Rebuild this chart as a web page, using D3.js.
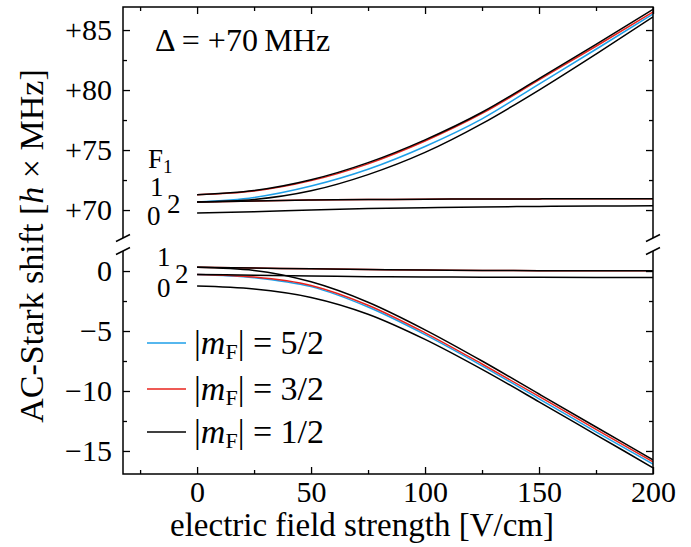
<!DOCTYPE html>
<html>
<head>
<meta charset="utf-8">
<script src="https://cdn.jsdelivr.net/npm/d3@7"></script>
<style>
  body { margin: 0; background: #fff; }
  svg text { font-family: "Liberation Serif", serif; fill: #000; }
</style>
</head>
<body>
<div id="chart"></div>
<script>
// field strengths where values were read (V/cm)
const fields = [0, 25, 50, 75, 100, 125, 150, 175, 200];

// upper panel (+70 MHz branch)
const upBlue      = [70.67, 71.05, 72.0, 73.4, 75.3, 77.6, 80.5, 83.4, 86.33];
const upRed       = [71.27, 71.58, 72.45, 73.85, 75.75, 78.05, 80.85, 83.65, 86.5];
const upBlack     = [71.27, 71.62, 72.52, 73.95, 75.85, 78.15, 80.95, 83.8, 86.73];
const upBlack2    = [70.67, 70.88, 71.6, 72.95, 74.8, 77.2, 80.0, 83.0, 86.1];
const upFlatRed   = [70.67, 70.76, 70.83, 70.87, 70.9, 70.92, 70.93, 70.94, 70.95];
const upFlatBlack = [70.67, 70.76, 70.83, 70.87, 70.9, 70.92, 70.93, 70.94, 70.95];
const upLowBlack  = [69.75, 69.86, 70.0, 70.12, 70.2, 70.26, 70.3, 70.33, 70.36];

// lower panel (0 MHz branch)
const loBlue       = [-0.28, -0.55, -1.3, -3.0, -5.3, -7.9, -10.65, -13.4, -16.1];
const loRed        = [-0.28, -0.5, -1.2, -2.85, -5.15, -7.75, -10.45, -13.2, -15.9];
const loBlack      = [0.31, 0.05, -0.9, -2.6, -4.9, -7.5, -10.25, -13.0, -15.75];
const loBlack2     = [-1.25, -1.5, -2.2, -3.6, -5.7, -8.2, -10.9, -13.65, -16.4];
const loFlatRed    = [0.31, 0.25, 0.18, 0.12, 0.08, 0.05, 0.03, 0.02, 0.02];
const loFlatBlack  = [0.31, 0.25, 0.18, 0.12, 0.08, 0.05, 0.03, 0.02, 0.02];
const loFlatBlack2 = [-0.28, -0.35, -0.42, -0.47, -0.5, -0.51, -0.52, -0.53, -0.53];

const xTicks = [0, 50, 100, 150, 200];
const xMinor = [-25, 25, 75, 125, 175];
const upTicks = [70, 75, 80, 85];
const upMinor = [72.5, 77.5, 82.5];
const loTicks = [0, -5, -10, -15];
const loMinor = [-2.5, -7.5, -12.5];

const legendItems = [
  { label: "5/2", color: "#1e9fe8" },
  { label: "3/2", color: "#e8231d" },
  { label: "1/2", color: "#000000" }
];

const colors = { blue: "#1e9fe8", red: "#e8231d", black: "#000000" };

const W = 691, H = 547;
const left = 123, right = 653;
const upTop = 7, upBottom = 238, loTop = 251, loBottom = 474;
const serif = "'Liberation Serif', serif";

const x = d3.scaleLinear().domain([-32.5, 200]).range([left, right]);
const yUp = d3.scaleLinear().domain([67.67, 86.92]).range([upBottom, upTop]);
const yLo = d3.scaleLinear().domain([-16.92, 1.67]).range([loBottom, loTop]);

const svg = d3.select("#chart").append("svg")
  .attr("width", W).attr("height", H)
  .style("font-family", serif);

const defs = svg.append("defs");
defs.append("clipPath").attr("id", "clipUp").append("rect")
  .attr("x", left).attr("y", upTop).attr("width", right - left).attr("height", upBottom - upTop);
defs.append("clipPath").attr("id", "clipLo").append("rect")
  .attr("x", left).attr("y", loTop).attr("width", right - left).attr("height", loBottom - loTop);

function drawSeries(g, y, vals, color) {
  const line = d3.line()
    .x((d, i) => x(fields[i]))
    .y(d => y(d))
    .curve(d3.curveMonotoneX);
  g.append("path")
    .datum(vals)
    .attr("fill", "none")
    .attr("stroke", color)
    .attr("stroke-width", 1.5)
    .attr("d", line);
}

const gUp = svg.append("g").attr("clip-path", "url(#clipUp)");
drawSeries(gUp, yUp, upBlue, colors.blue);
drawSeries(gUp, yUp, upRed, colors.red);
drawSeries(gUp, yUp, upFlatRed, colors.red);
drawSeries(gUp, yUp, upBlack, colors.black);
drawSeries(gUp, yUp, upBlack2, colors.black);
drawSeries(gUp, yUp, upFlatBlack, colors.black);
drawSeries(gUp, yUp, upLowBlack, colors.black);

const gLo = svg.append("g").attr("clip-path", "url(#clipLo)");
drawSeries(gLo, yLo, loBlue, colors.blue);
drawSeries(gLo, yLo, loRed, colors.red);
drawSeries(gLo, yLo, loFlatRed, colors.red);
drawSeries(gLo, yLo, loBlack, colors.black);
drawSeries(gLo, yLo, loBlack2, colors.black);
drawSeries(gLo, yLo, loFlatBlack, colors.black);
drawSeries(gLo, yLo, loFlatBlack2, colors.black);

// axes (ticks inward on all four sides)
const tickFont = "30px";
function styleAxis(g) {
  g.attr("font-family", serif);
  g.select(".domain").remove();
  g.selectAll("line").attr("stroke", "#000").attr("stroke-width", 1.3);
  g.selectAll("text").style("font-size", tickFont).style("font-family", serif);
}

const fmtUp = d => "+" + d;
const fmtLo = d => d < 0 ? "\u2212" + Math.abs(d) : String(d);

// left
svg.append("g").attr("transform", `translate(${left},0)`)
  .call(d3.axisLeft(yUp).tickValues(upTicks).tickFormat(fmtUp).tickSizeInner(-7).tickSizeOuter(0).tickPadding(11))
  .call(styleAxis);
svg.append("g").attr("transform", `translate(${left},0)`)
  .call(d3.axisLeft(yUp).tickValues(upMinor).tickFormat("").tickSizeInner(-4).tickSizeOuter(0))
  .call(styleAxis);
svg.append("g").attr("transform", `translate(${left},0)`)
  .call(d3.axisLeft(yLo).tickValues(loTicks).tickFormat(fmtLo).tickSizeInner(-7).tickSizeOuter(0).tickPadding(11))
  .call(styleAxis);
svg.append("g").attr("transform", `translate(${left},0)`)
  .call(d3.axisLeft(yLo).tickValues(loMinor).tickFormat("").tickSizeInner(-4).tickSizeOuter(0))
  .call(styleAxis);

// right
[[yUp, upTicks, 7], [yUp, upMinor, 4], [yLo, loTicks, 7], [yLo, loMinor, 4]].forEach(([s, t, len]) => {
  svg.append("g").attr("transform", `translate(${right},0)`)
    .call(d3.axisRight(s).tickValues(t).tickFormat("").tickSizeInner(-len).tickSizeOuter(0))
    .call(styleAxis);
});

// bottom
svg.append("g").attr("transform", `translate(0,${loBottom})`)
  .call(d3.axisBottom(x).tickValues(xTicks).tickFormat(d => String(d)).tickSizeInner(-7).tickSizeOuter(0).tickPadding(7))
  .call(styleAxis)
  .selectAll("text").attr("dy", "0.71em");
svg.append("g").attr("transform", `translate(0,${loBottom})`)
  .call(d3.axisBottom(x).tickValues(xMinor).tickFormat("").tickSizeInner(-4).tickSizeOuter(0))
  .call(styleAxis);

// top
svg.append("g").attr("transform", `translate(0,${upTop})`)
  .call(d3.axisTop(x).tickValues(xTicks).tickFormat("").tickSizeInner(-7).tickSizeOuter(0))
  .call(styleAxis);
svg.append("g").attr("transform", `translate(0,${upTop})`)
  .call(d3.axisTop(x).tickValues(xMinor).tickFormat("").tickSizeInner(-4).tickSizeOuter(0))
  .call(styleAxis);

// spines
const spine = svg.append("g").attr("stroke", "#000").attr("stroke-width", 1.5).attr("fill", "none");
spine.append("path").attr("d", `M${left},${upBottom}V${upTop}H${right}V${upBottom}`);
spine.append("path").attr("d", `M${left},${loTop}V${loBottom}H${right}V${loTop}`);

// break marks
[left, right].forEach(px => {
  [upBottom, loTop].forEach(py => {
    spine.append("line")
      .attr("x1", px - 7).attr("y1", py + 3.5)
      .attr("x2", px + 7).attr("y2", py - 3.5);
  });
});

// annotations
svg.append("text").attr("x", 155).attr("y", 51)
  .style("font-size", "32px")
  .text("\u0394 = +70\u2009MHz");

const fLab = svg.append("text").attr("x", 148).attr("y", 168).style("font-size", "27px");
fLab.append("tspan").text("F");
fLab.append("tspan").attr("dy", 5).style("font-size", "19px").text("1");

const stateLabels = [
  { t: "1", xv: 150, y: 196 },
  { t: "2", xv: 167, y: 213 },
  { t: "0", xv: 147, y: 225 },
  { t: "1", xv: 157, y: 266 },
  { t: "2", xv: 175, y: 283 },
  { t: "0", xv: 157, y: 297 }
];
svg.selectAll(".state").data(stateLabels).enter().append("text")
  .attr("class", "state")
  .attr("x", d => d.xv).attr("y", d => d.y)
  .style("font-size", "27px")
  .text(d => d.t);

// legend
const legY = [343, 389, 432];
legendItems.forEach((d, i) => {
  svg.append("line")
    .attr("x1", 147).attr("x2", 186)
    .attr("y1", legY[i]).attr("y2", legY[i])
    .attr("stroke", d.color).attr("stroke-width", 1.5);
  const t = svg.append("text").attr("x", 194).attr("y", legY[i] + 11).style("font-size", "34px");
  t.append("tspan").text("|");
  t.append("tspan").style("font-style", "italic").text("m");
  t.append("tspan").attr("dy", 5).style("font-size", "22px").text("F");
  t.append("tspan").attr("dy", -5).text("| = " + d.label);
});

// axis titles
svg.append("text")
  .attr("x", 362).attr("y", 536)
  .attr("text-anchor", "middle")
  .style("font-size", "33px")
  .text("electric field strength [V/cm]");

const yl = svg.append("text")
  .attr("transform", "translate(43,246) rotate(-90)")
  .attr("text-anchor", "middle")
  .style("font-size", "34px");
yl.append("tspan").text("AC-Stark shift [");
yl.append("tspan").style("font-style", "italic").text("h");
yl.append("tspan").text(" \u00d7 MHz]");
</script>
</body>
</html>
